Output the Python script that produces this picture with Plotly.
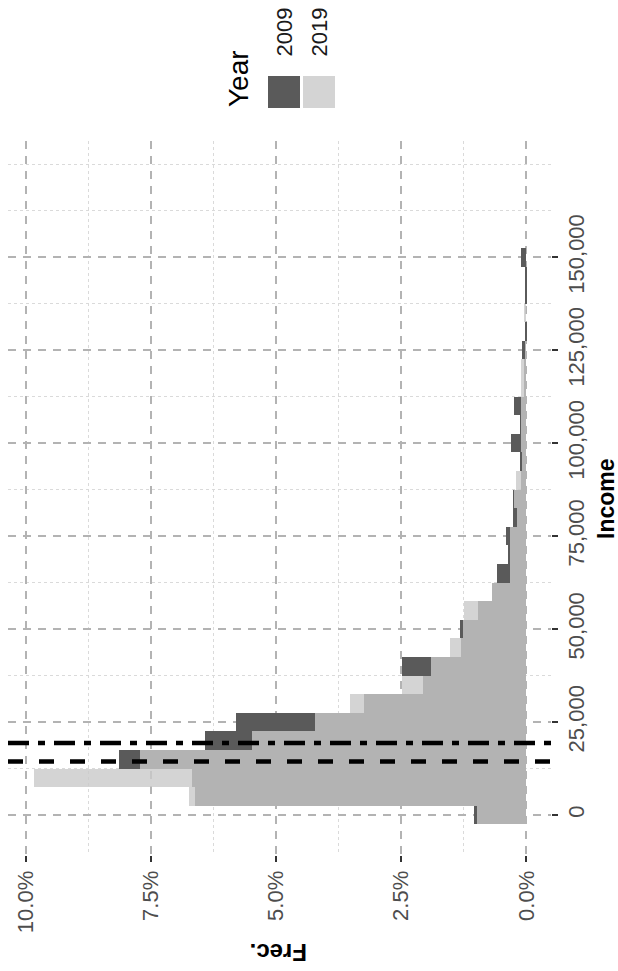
import plotly.graph_objects as go

# ---------------- data ----------------
income_bins = [0, 5000, 10000, 15000, 20000, 25000, 30000, 35000, 40000, 45000,
               50000, 55000, 60000, 65000, 70000, 75000, 80000, 85000, 90000, 95000,
               100000, 105000, 110000, 115000, 120000, 125000, 130000, 135000, 140000,
               145000, 150000]
freq_2009 = [1.05, 6.62, 6.68, 8.14, 6.42, 5.79, 3.25, 2.07, 2.48, 1.31,
             1.32, 0.97, 0.69, 0.58, 0.36, 0.40, 0.26, 0.26, 0.10, 0.12,
             0.31, 0.12, 0.25, 0.05, 0.05, 0.08, 0.01, 0.00, 0.01, 0.01, 0.10]
freq_2019 = [0.98, 6.74, 9.84, 7.71, 5.47, 4.23, 3.52, 2.49, 1.90, 1.52,
             1.27, 1.24, 0.68, 0.33, 0.33, 0.33, 0.18, 0.24, 0.20, 0.09,
             0.10, 0.10, 0.10, 0.11, 0.11, 0.03, 0.01, 0.05, 0.01, 0.01, 0.00]
years = ["2009", "2019"]
median_values = [14400, 19400]
median_dashes = ["15px,16px", "21px,9px,7px,9px"]

income_ticks = [0, 25000, 50000, 75000, 100000, 125000, 150000]
income_minor = [12500, 37500, 62500, 87500, 112500, 137500, 162500, 175000]
frec_ticks = [0, 0.025, 0.05, 0.075, 0.10]
frec_minor = [0.0125, 0.0375, 0.0625, 0.0875]

# ---------------- layout geometry ----------------
W, H = 618, 971
ML, MR, MT, MB = 8, 67, 141, 116
PW, PH = W - ML - MR, H - MT - MB


def px(xp):
    return (xp - ML) / PW


def py(yp):
    return (H - MB - yp) / PH


dark = "#5a5a5a"
light = "rgba(201,201,201,0.8)"
font_family = "Liberation Sans, Arial, sans-serif"

fig = go.Figure()
fig.add_trace(go.Bar(y=income_bins, x=[v / 100 for v in freq_2009], orientation="h",
                     width=5000, marker=dict(color=dark, line=dict(width=0)),
                     name=years[0], showlegend=False))
fig.add_trace(go.Bar(y=income_bins, x=[v / 100 for v in freq_2019], orientation="h",
                     width=5000, marker=dict(color=light, line=dict(width=0)),
                     name=years[1], showlegend=False))

shapes = []
for val, dsh in zip(median_values, median_dashes):
    shapes.append(dict(type="line", xref="paper", x0=0, x1=1, yref="y", y0=val, y1=val,
                       line=dict(color="black", width=4.5, dash=dsh), layer="above"))

# legend keys
shapes.append(dict(type="rect", xref="paper", yref="paper", x0=px(268), x1=px(300),
                   y0=py(108), y1=py(76), fillcolor=dark, line=dict(width=0)))
shapes.append(dict(type="rect", xref="paper", yref="paper", x0=px(303), x1=px(335),
                   y0=py(108), y1=py(76), fillcolor="#d4d4d4", line=dict(width=0)))

annotations = [
    dict(text="Year", x=px(238.5), y=py(78.5), xref="paper", yref="paper", showarrow=False,
         textangle=-90, xanchor="center", yanchor="middle",
         font=dict(family=font_family, size=28, color="black")),
    dict(text=years[0], x=px(284), y=py(32.5), xref="paper", yref="paper", showarrow=False,
         textangle=-90, xanchor="center", yanchor="middle",
         font=dict(family=font_family, size=22, color="#1a1a1a")),
    dict(text=years[1], x=px(319), y=py(32.5), xref="paper", yref="paper", showarrow=False,
         textangle=-90, xanchor="center", yanchor="middle",
         font=dict(family=font_family, size=22, color="#1a1a1a")),
    dict(text="<b>Income</b>", x=px(606), y=py(499), xref="paper", yref="paper",
         showarrow=False, textangle=-90, xanchor="center", yanchor="middle",
         font=dict(family=font_family, size=23, color="black")),
    dict(text="<b>Frec.</b>", x=px(279), y=py(953), xref="paper", yref="paper",
         showarrow=False, textangle=180, xanchor="center", yanchor="middle",
         font=dict(family=font_family, size=24, color="black")),
]

tickfont = dict(family=font_family, size=22, color="#4d4d4d")

fig.update_layout(
    width=W, height=H,
    margin=dict(l=ML, r=MR, t=MT, b=MB, pad=0),
    paper_bgcolor="white", plot_bgcolor="white",
    barmode="overlay", bargap=0,
    showlegend=False,
    shapes=shapes, annotations=annotations,
    xaxis=dict(range=[0.1035, -0.0049], tickmode="array", tickvals=frec_ticks,
               tickformat=".1%", tickangle=-90, ticks="outside", ticklen=6,
               tickwidth=1.5, tickcolor="#333333", tickfont=tickfont,
               showgrid=True, gridcolor="#b3b3b3", gridwidth=1.5, griddash="8px,7px",
               zeroline=False, showline=False,
               minor=dict(tickmode="array", tickvals=frec_minor, showgrid=True,
                          gridcolor="#dadada", gridwidth=1, griddash="dot", ticks="")),
    yaxis=dict(range=[-10750, 181250], side="right", tickmode="array",
               tickvals=income_ticks, tickformat=",d", tickangle=-90, ticks="outside",
               ticklen=6, tickwidth=1.5, tickcolor="#333333", tickfont=tickfont,
               showgrid=True, gridcolor="#b3b3b3", gridwidth=1.5, griddash="8px,7px",
               zeroline=False, showline=False,
               minor=dict(tickmode="array", tickvals=income_minor, showgrid=True,
                          gridcolor="#dadada", gridwidth=1, griddash="dot", ticks="")),
)

fig.write_html("out.html", config={"displayModeBar": False},
               post_script="document.body.style.margin='0';")
